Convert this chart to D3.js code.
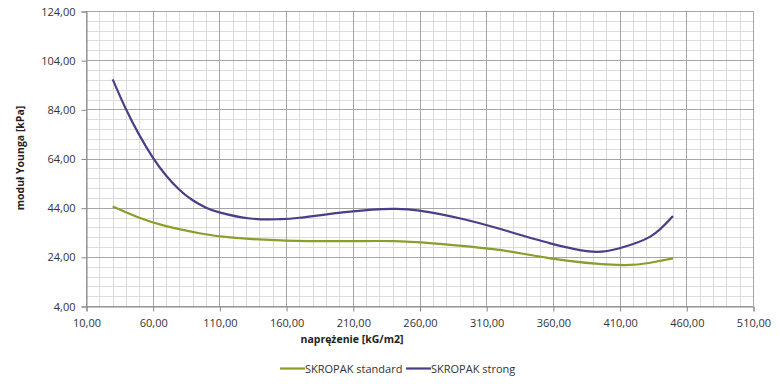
<!DOCTYPE html>
<html lang="pl">
<head>
<meta charset="UTF-8">
<title>moduł Younga</title>
<style>
  body { margin: 0; background: #fff; font-family: 'Open Sans', 'Noto Sans', sans-serif; }
  .tick text { font-size: 11px; fill: #333; }
  .axis-title { font-size: 10.5px; font-weight: bold; fill: #222; }
  .legend text { font-size: 11px; fill: #333; }
</style>
</head>
<body>
<script src="https://d3js.org/d3.v7.min.js"></script>
<script>
// data
const xTicks = [10, 60, 110, 160, 210, 260, 310, 360, 410, 460, 510];
const yTicks = [4, 24, 44, 64, 84, 104, 124];

const standardX = [30, 50, 70, 95, 118, 160, 210, 240, 270, 320, 358, 408, 433, 450];
const standardY = [44.5, 39.9, 36.5, 33.6, 31.9, 30.6, 30.4, 30.4, 29.5, 26.8, 23.4, 20.7, 21.6, 23.4];

const strongX = [30, 40, 50, 60, 70, 80, 90, 100, 110, 133, 155, 170, 208, 240, 260, 290, 320, 358, 390, 410, 433, 450];
const strongY = [96.2, 84.0, 73.5, 64.5, 57.1, 51.3, 47.0, 44.0, 42.1, 39.6, 39.3, 39.9, 42.4, 43.5, 42.8, 39.7, 35.4, 29.5, 26.1, 27.5, 32.2, 40.6];

const seriesNames = ["SKROPAK standard", "SKROPAK strong"];
const seriesColors = ["#87a02c", "#4b3d88"];

const W = 780, H = 384;
const svg = d3.select("body").append("svg").attr("width", W).attr("height", H);

const x = d3.scaleLinear().domain([10, 510]).range([86, 753]);
const y = d3.scaleLinear().domain([4, 124]).range([306, 11]);

// minor grid
svg.append("g").selectAll("line").data(d3.range(10, 511, 10)).enter().append("line")
  .attr("x1", d => Math.round(x(d)) + 0.5).attr("x2", d => Math.round(x(d)) + 0.5)
  .attr("y1", y(124)).attr("y2", y(4))
  .attr("stroke", "#dcdcdc");
svg.append("g").selectAll("line").data(d3.range(4, 125, 4)).enter().append("line")
  .attr("y1", d => Math.round(y(d)) + 0.5).attr("y2", d => Math.round(y(d)) + 0.5)
  .attr("x1", x(10)).attr("x2", x(510))
  .attr("stroke", "#dcdcdc");

// major grid
svg.append("g").selectAll("line").data(xTicks).enter().append("line")
  .attr("x1", d => Math.round(x(d)) + 0.5).attr("x2", d => Math.round(x(d)) + 0.5)
  .attr("y1", y(124)).attr("y2", y(4))
  .attr("stroke", "#a6a6a6");
svg.append("g").selectAll("line").data(yTicks).enter().append("line")
  .attr("y1", d => Math.round(y(d)) + 0.5).attr("y2", d => Math.round(y(d)) + 0.5)
  .attr("x1", x(10)).attr("x2", x(510))
  .attr("stroke", "#a6a6a6");

const fmt = d => d.toFixed(2).replace(".", ",");

const xAxis = svg.append("g").attr("transform", `translate(0.5,${Math.round(y(4)) + 0.5})`)
  .call(d3.axisBottom(x).tickValues(xTicks).tickFormat(fmt).tickSize(5).tickPadding(8));
const yAxis = svg.append("g").attr("transform", `translate(${Math.round(x(10)) + 0.5},0.5)`)
  .call(d3.axisLeft(y).tickValues(yTicks).tickFormat(fmt).tickSize(5).tickPadding(6));
[xAxis, yAxis].forEach(a => {
  a.select(".domain").attr("stroke", "#888");
  a.selectAll(".tick line").attr("stroke", "#888");
  a.selectAll(".tick text").style("font-family", "'Open Sans', sans-serif");
});

// curves
const line = d3.line().x(d => x(d[0])).y(d => y(d[1])).curve(d3.curveNatural);
const series = [
  d3.zip(standardX, standardY),
  d3.zip(strongX, strongY)
];
series.forEach((s, i) => {
  svg.append("path").datum(s).attr("d", line)
    .attr("fill", "none").attr("stroke", seriesColors[i]).attr("stroke-width", 2.2);
});

// axis titles
svg.append("text").attr("class", "axis-title").attr("x", 352).attr("y", 343)
  .attr("text-anchor", "middle").text("naprężenie [kG/m2]");
svg.append("text").attr("class", "axis-title")
  .attr("transform", "translate(24,158) rotate(-90)")
  .attr("text-anchor", "middle").text("moduł Younga [kPa]");

// legend
const legend = svg.append("g").attr("class", "legend");
const legX = [280, 406];
seriesNames.forEach((n, i) => {
  legend.append("line").attr("x1", legX[i]).attr("x2", legX[i] + 25)
    .attr("y1", 368.5).attr("y2", 368.5)
    .attr("stroke", seriesColors[i]).attr("stroke-width", 2.2);
  legend.append("text").attr("x", legX[i] + 25).attr("y", 372.5).text(n);
});
</script>
</body>
</html>
